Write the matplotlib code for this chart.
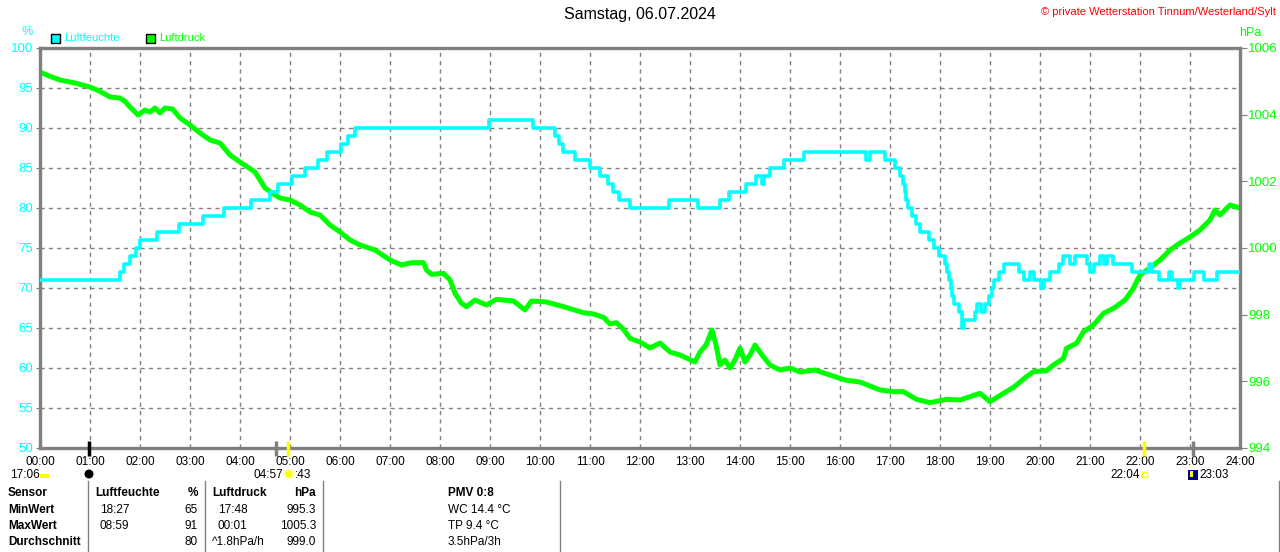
import matplotlib
matplotlib.use("Agg")
import matplotlib.pyplot as plt
import matplotlib.patches as mpatches
from matplotlib.lines import Line2D

plt.rcParams["font.family"] = ["Liberation Sans", "DejaVu Sans"]

# humidity, step points (hour, %)
hum_hours = [0, 1.6, 1.67, 1.8, 1.91, 2.0, 2.33, 2.77, 3.25, 3.68, 4.21, 4.6, 4.75,
             5.03, 5.29, 5.55, 5.73, 6.02, 6.15, 6.3, 8.97, 9.85, 10.3, 10.37, 10.45,
             10.7, 10.99, 11.2, 11.35, 11.45, 11.57, 11.8, 12.58, 13.15, 13.6, 13.77,
             14.12, 14.32, 14.43, 14.47, 14.6, 14.87, 15.28, 16.52, 16.59, 16.9, 17.1,
             17.2, 17.25, 17.3, 17.33, 17.36, 17.43, 17.52, 17.6, 17.77, 17.87, 17.99,
             18.1, 18.13, 18.17, 18.21, 18.24, 18.27, 18.37, 18.43, 18.47, 18.7, 18.73,
             18.83, 18.9, 18.97, 19.03, 19.08, 19.17, 19.27, 19.57, 19.67, 19.79, 19.88,
             20.02, 20.07, 20.19, 20.37, 20.45, 20.6, 20.7, 20.93, 21.0, 21.07, 21.19,
             21.27, 21.33, 21.45, 21.83, 22.17, 22.23, 22.37, 22.57, 22.63, 22.75, 22.8,
             23.07, 23.27, 23.53, 24.0]
hum_values = [71, 72, 73, 74, 75, 76, 77, 78, 79, 80, 81, 82, 83,
              84, 85, 86, 87, 88, 89, 90, 91, 90, 89, 88, 87,
              86, 85, 84, 83, 82, 81, 80, 81, 80, 81, 82,
              83, 84, 83, 84, 85, 86, 87, 86, 87, 86, 85,
              84, 83, 82, 81, 80, 79, 78, 77, 76, 75, 74,
              73, 72, 71, 70, 69, 68, 67, 65, 66, 67, 68,
              67, 68, 69, 70, 71, 72, 73, 72, 71, 72, 71,
              70, 71, 72, 73, 74, 73, 74, 73, 72, 73, 74,
              73, 74, 73, 72, 73, 72, 71, 72, 71, 70, 71,
              72, 71, 72, 72]

# pressure (hour, hPa)
pres_hours = [0.0, 0.2, 0.4, 0.7, 1.0, 1.2, 1.4, 1.6, 1.7, 1.8, 1.96, 2.1, 2.2, 2.3,
              2.4, 2.5, 2.65, 2.8, 3.0, 3.2, 3.4, 3.6, 3.8, 4.0, 4.3, 4.5, 4.7, 4.8,
              5.0, 5.2, 5.4, 5.6, 5.8, 6.0, 6.2, 6.4, 6.7,
              7.0, 7.23, 7.43, 7.67, 7.73, 7.83, 8.07, 8.2, 8.3, 8.43, 8.53, 8.7, 8.93,
              9.13, 9.47, 9.7, 9.83, 10.13, 10.47, 10.87, 11.07, 11.27, 11.4, 11.53,
              11.67, 11.8,
              12.0, 12.2, 12.4, 12.6, 12.8, 13.1, 13.2, 13.32, 13.44,
              13.52, 13.6, 13.7, 13.8, 13.9, 14.0, 14.1, 14.2, 14.3, 14.44, 14.6,
              14.8, 15.0, 15.2, 15.5, 15.8, 16.1, 16.4,
              16.8, 17.07, 17.27, 17.53, 17.8, 18.13, 18.4, 18.6, 18.8, 19.0, 19.27,
              19.47, 19.73, 19.87, 20.13, 20.27, 20.47, 20.53, 20.73, 20.87, 21.07,
              21.27, 21.47, 21.7, 21.85,
              22.0, 22.2, 22.4, 22.6, 22.8, 23.0, 23.2, 23.4, 23.5, 23.6, 23.8, 24.0]
pres_values = [1005.28, 1005.15, 1005.04, 1004.95, 1004.83, 1004.7, 1004.53, 1004.5,
               1004.4, 1004.23, 1003.99, 1004.14, 1004.08, 1004.2, 1004.05, 1004.2,
               1004.17, 1003.9, 1003.69, 1003.45, 1003.24, 1003.15, 1002.79, 1002.58,
               1002.28, 1001.8, 1001.59, 1001.5, 1001.44, 1001.29, 1001.08, 1000.99,
               1000.69, 1000.48, 1000.24, 1000.09, 999.94,
               999.64, 999.49, 999.56, 999.56, 999.34, 999.21, 999.24, 999.04, 998.64,
               998.34, 998.24, 998.44, 998.29, 998.46, 998.41, 998.14, 998.41, 998.38,
               998.24, 998.06, 998.02, 997.92, 997.72, 997.76, 997.56, 997.29,
               997.18, 997.0, 997.15, 996.88, 996.79, 996.58, 996.88, 997.09, 997.54,
               997.09, 996.49, 996.64, 996.4, 996.64, 997.0, 996.58, 996.79, 997.09,
               996.79, 996.49, 996.34, 996.4, 996.28, 996.34, 996.19, 996.04, 995.98,
               995.74, 995.69, 995.69, 995.46, 995.36, 995.46, 995.44, 995.54, 995.64,
               995.39, 995.64, 995.82, 996.14, 996.29, 996.32, 996.49, 996.69, 996.99,
               997.14, 997.49, 997.69, 998.04, 998.19, 998.44, 998.75,
               999.19, 999.4, 999.64, 999.94, 1000.15, 1000.33, 1000.54, 1000.84,
               1001.14, 1000.99, 1001.29, 1001.2]

hour_labels = [f"{h:02d}:00" for h in range(25)]
hum_ticks = list(range(50, 101, 5))
pres_ticks = list(range(994, 1007, 2))

# sun / moon event markers on the time axis (hour, colour)
events = [(0.98, "black"), (4.72, "#808080"), (4.95, "#FFFF00"),
          (22.07, "#FFFF00"), (23.06, "#808080")]

title = "Samstag, 06.07.2024"
copyright_text = "© private Wetterstation Tinnum/Westerland/Sylt"

CYAN = "#00FFFF"
GREEN = "#00FF00"
GREY = "#808080"
W, H = 1280, 552


def fx(x):
    return x / W


def fy(y):
    return 1 - y / H


fig = plt.figure(figsize=(12.8, 5.52), dpi=100)
ax = fig.add_axes([fx(40), fy(448), 1200 / W, 400 / H])
ax2 = ax.twinx()

ax.set_xlim(0, 24)
ax.set_ylim(50, 100)
ax2.set_ylim(994, 1006)

ax.set_xticks(range(25))
ax.set_xticklabels(hour_labels, fontsize=8.5)
ax.set_yticks(hum_ticks)
ax.set_yticklabels([str(v) for v in hum_ticks], fontsize=9.5, color=CYAN)
ax2.set_yticks(pres_ticks)
ax2.set_yticklabels([str(v) for v in pres_ticks], fontsize=9.5, color=GREEN)

ax.tick_params(axis="x", length=0, pad=5.5)
ax.tick_params(axis="y", length=3, color=GREY, pad=2)
ax2.tick_params(axis="y", length=5, color=GREY, pad=1)

ax.grid(True, color=GREY, linestyle=(0, (3, 3)), linewidth=1)
for a in (ax, ax2):
    for s in a.spines.values():
        s.set_color(GREY)
        s.set_linewidth(2.3)

ax2.plot(pres_hours, pres_values, color=GREEN, linewidth=3.6, zorder=2)
ax2.plot(hum_hours, hum_values, color=CYAN, linewidth=2.6, drawstyle="steps-post",
         transform=ax.transData, zorder=3)

for h, c in events:
    ax2.plot([h, h], [-0.02, 0.018], color=c, linewidth=2.5, transform=ax.get_xaxis_transform(),
             clip_on=False, zorder=5, solid_capstyle="butt")

# header texts
fig.text(0.5, fy(15), title, ha="center", va="center", fontsize=11.5)
fig.text(fx(1276), fy(12), copyright_text, ha="right", va="center", fontsize=8, color="red")
fig.text(fx(27), fy(32), "%", ha="center", va="center", fontsize=9, color=CYAN)
fig.text(fx(1250), fy(33), "hPa", ha="center", va="center", fontsize=9, color=GREEN)

# legend
for x0, col, lab in [(51, CYAN, "Luftfeuchte"), (146, GREEN, "Luftdruck")]:
    fig.add_artist(mpatches.Rectangle((fx(x0), fy(43)), 9 / W, 9 / H, facecolor=col,
                                      edgecolor="black", linewidth=1, transform=fig.transFigure))
    fig.text(fx(x0 + 13), fy(38), lab, ha="left", va="center", fontsize=8, color=col)

# event labels below the axis
ev_y = 475
fig.text(fx(10), fy(ev_y), "17:06", ha="left", va="center", fontsize=8.5)
fig.add_artist(mpatches.Rectangle((fx(40), fy(478)), 9 / W, 4 / H, facecolor="#FFFF00",
                                  edgecolor="none", transform=fig.transFigure))
fig.add_artist(mpatches.Ellipse((fx(89), fy(474)), 9 / W, 9 / H, facecolor="black",
                                transform=fig.transFigure))
fig.text(fx(254), fy(ev_y), "04:57", ha="left", va="center", fontsize=8.5)
fig.add_artist(mpatches.Ellipse((fx(289), fy(474)), 8 / W, 8 / H, facecolor="#FFFF00",
                                edgecolor="#FFFF80", transform=fig.transFigure))
fig.text(fx(295), fy(ev_y), ":43", ha="left", va="center", fontsize=8.5)
fig.text(fx(1110), fy(ev_y), "22:04", ha="left", va="center", fontsize=8.5)
fig.add_artist(mpatches.Rectangle((fx(1142), fy(477)), 5 / W, 5 / H, facecolor="none",
                                  edgecolor="#FFFF00", transform=fig.transFigure))
fig.add_artist(mpatches.Rectangle((fx(1188), fy(480)), 10 / W, 10 / H, facecolor="#000080",
                                  edgecolor="none", transform=fig.transFigure))
fig.add_artist(mpatches.Rectangle((fx(1190), fy(477)), 3 / W, 6 / H, facecolor="#FFFF00",
                                  edgecolor="none", transform=fig.transFigure))
fig.text(fx(1199), fy(ev_y), "23:03", ha="left", va="center", fontsize=8.5)

# table separators
for xs in (88, 205, 323, 560, 1279):
    fig.add_artist(Line2D([fx(xs), fx(xs)], [fy(481), fy(552)], color=GREY, linewidth=1,
                          transform=fig.transFigure))

rows_y = [493, 510, 526, 542]
col_sensor = ["Sensor", "MinWert", "MaxWert", "Durchschnitt"]
hum_time = ["Luftfeuchte", "18:27", "08:59", ""]
hum_val = ["%", "65", "91", "80"]
pres_time = ["Luftdruck", "17:48", "00:01", "^1.8hPa/h"]
pres_val = ["hPa", "995.3", "1005.3", "999.0"]
extra = ["PMV 0:8", "WC 14.4 °C", "TP 9.4 °C", "3.5hPa/3h"]

for i, y in enumerate(rows_y):
    head = i == 0
    fig.text(fx(8), fy(y), col_sensor[i], ha="left", va="center", fontsize=8.5, weight="bold")
    fig.text(fx(95 if head else 100), fy(y), hum_time[i], ha="left", va="center", fontsize=8.5,
             weight="bold" if head else "normal")
    fig.text(fx(198), fy(y), hum_val[i], ha="right", va="center", fontsize=8.5,
             weight="bold" if head else "normal")
    fig.text(fx(212 if (head or i == 3) else 218), fy(y), pres_time[i], ha="left", va="center",
             fontsize=8.5, weight="bold" if head else "normal")
    fig.text(fx(316), fy(y), pres_val[i], ha="right", va="center", fontsize=8.5,
             weight="bold" if head else "normal")
    fig.text(fx(448), fy(y), extra[i], ha="left", va="center", fontsize=8.5,
             weight="bold" if head else "normal")

fig.savefig("out.png", dpi=100)
